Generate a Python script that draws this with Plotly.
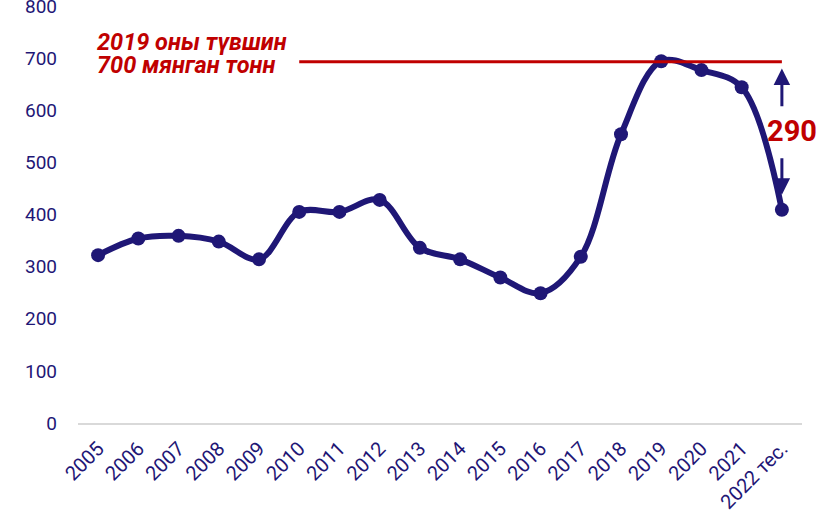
import plotly.graph_objects as go

years = ["2005", "2006", "2007", "2008", "2009", "2010", "2011", "2012", "2013",
         "2014", "2015", "2016", "2017", "2018", "2019", "2020", "2021", "2022 тес."]
values = [322, 354, 359, 348, 314, 405, 405, 428, 336,
          314, 279, 249, 319, 554, 694, 677, 644, 409]
level_2019 = 693
gap_label = "290"
level_line1 = "2019 оны түвшин"
level_line2 = "700 мянган тонн"
y_ticks = [0, 100, 200, 300, 400, 500, 600, 700, 800]

NAVY = "#1f1776"
RED = "#c00000"
FONT = "Roboto"

n = len(years)
last = n - 1

fig = go.Figure()

fig.add_trace(go.Scatter(
    x=years, y=values, mode="lines+markers",
    line=dict(color=NAVY, width=6, shape="spline", smoothing=1.0),
    marker=dict(color=NAVY, size=14), showlegend=False, cliponaxis=False))

fig.add_trace(go.Scatter(
    x=[years[5], years[-1]], y=[level_2019, level_2019],
    mode="lines", line=dict(color=RED, width=3), hoverinfo="skip", showlegend=False))

# level label (two lines, tight spacing)
for txt, dy in ((level_line1, 38), (level_line2, -6)):
    fig.add_annotation(x=0, y=level_2019 + dy, xref="x", yref="y",
                       text="<i><b>" + txt + "</b></i>", showarrow=False,
                       xanchor="left", yanchor="middle", xshift=-3, align="left",
                       font=dict(family=FONT, size=23.5, color=RED))

# gap arrows
up_tail = level_2019 - 88
down_tail = values[-1] + 102
fig.add_annotation(x=last, y=level_2019 - 13, ax=last, ay=up_tail,
                   xref="x", yref="y", axref="x", ayref="y", text="",
                   showarrow=True, arrowhead=2, arrowsize=1.1, arrowwidth=3, arrowcolor=NAVY)
fig.add_annotation(x=last, y=values[-1] + 29, ax=last, ay=down_tail,
                   xref="x", yref="y", axref="x", ayref="y", text="",
                   showarrow=True, arrowhead=2, arrowsize=1.1, arrowwidth=3, arrowcolor=NAVY)
fig.add_annotation(x=last, y=(level_2019 + values[-1]) / 2 + 9, xref="x", yref="y",
                   text="<b>" + gap_label + "</b>", showarrow=False, xshift=10,
                   font=dict(family=FONT, size=29, color=RED))

fig.update_layout(
    width=819, height=517,
    margin=dict(l=78, r=17, t=6, b=94),
    paper_bgcolor="white", plot_bgcolor="white",
    font=dict(family=FONT, size=19, color=NAVY),
    showlegend=False,
    xaxis=dict(type="category", categoryorder="array", categoryarray=years,
               range=[-0.5, n - 0.5], autorange=False, automargin=False,
               showgrid=False, showline=True, linecolor="#d9d9d9",
               linewidth=2, ticks="", tickangle=-45, zeroline=False,
               ticklabelstandoff=4,
               tickfont=dict(family=FONT, size=20, color=NAVY)),
    yaxis=dict(range=[0, 800], tickvals=y_ticks, showgrid=False, zeroline=False,
               showline=False, ticks="", ticklabelstandoff=20, automargin=False,
               ticklabeloverflow="allow",
               tickfont=dict(family=FONT, size=19, color=NAVY)),
)

fig.write_html("out.html", config={"displayModeBar": False},
               post_script="document.body.style.margin='0';")
